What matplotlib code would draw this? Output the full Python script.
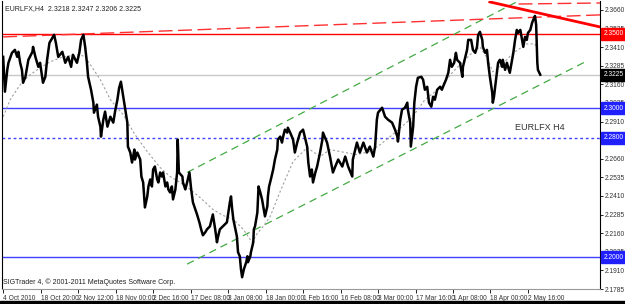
import matplotlib
matplotlib.use("Agg")
import matplotlib.pyplot as plt
import matplotlib.transforms as mtransforms
from matplotlib.patches import Rectangle

plt.rcParams["font.family"] = ["Liberation Sans", "DejaVu Sans"]

# H4 bar index (0 = 4 Oct 2010 00:00) and price at the turning points of the close
bar_idx = [0, 3, 7, 9, 15, 20, 24, 26, 29, 32,
           34, 38, 43, 50, 51, 55, 60, 63, 68, 72,
           75, 79, 84, 87, 90, 94, 101, 106, 111, 116,
           119, 126, 130, 133, 137, 140, 143, 145, 150, 154,
           155, 160, 162, 166, 167, 171, 174, 178, 183, 188,
           191, 195, 198, 201, 205, 208, 212, 213, 217, 220,
           224, 225, 229, 234, 236, 239, 242, 246, 248, 251,
           254, 256, 259, 263, 265, 268, 271, 273, 277, 280,
           282, 285, 288, 290, 294, 297, 298, 299, 300, 306,
           307, 311, 314, 318, 321, 324, 328, 331, 335, 338,
           341, 345, 348, 353, 358, 362, 365, 367, 370, 375,
           382, 387, 389, 391, 393, 399, 401, 404, 406, 408,
           411, 415, 417, 418, 422, 423, 427, 428, 430, 434,
           436, 439, 442, 444, 447, 451, 452, 454, 457, 461,
           464, 468, 469, 473, 476, 478, 481, 485, 486, 490,
           495, 498, 502, 507, 512, 516, 519, 521, 524, 527,
           529, 533, 536, 541, 545, 546, 553, 558, 563, 567,
           572, 579, 584, 589, 596, 597, 604, 609, 615, 621,
           626, 632, 635, 638, 640, 647, 652, 657, 664, 669,
           673, 674, 678, 681, 686, 690, 691, 695, 696, 700,
           702, 705, 708, 714, 717, 720, 724, 727, 731, 734,
           737, 741, 746, 749, 751, 756, 760, 763, 766, 770,
           773, 775, 780, 784, 785, 789, 792, 794, 799, 802,
           806, 809, 811, 814, 818, 819, 823, 826, 828, 831,
           835, 836, 838, 840, 843, 845, 848, 852, 853, 857,
           860, 862, 865, 869, 871, 874, 877, 879, 883, 886,
           888, 891, 894, 896, 900, 903, 905, 908, 910, 911,
           912, 913, 917]
price = [2.3345, 2.3111, 2.3258, 2.3305, 2.3372, 2.3392, 2.3345, 2.3379, 2.3305, 2.3258,
         2.3171, 2.3211, 2.3325, 2.3379, 2.3412, 2.3345, 2.3278, 2.3305, 2.3171, 2.3211,
         2.3325, 2.3439, 2.3472, 2.3493, 2.3439, 2.3345, 2.3379, 2.3305, 2.3345, 2.3278,
         2.3359, 2.3305, 2.3372, 2.3459, 2.3493, 2.3412, 2.3305, 2.3211, 2.3124, 2.3037,
         2.2970, 2.3024, 2.2943, 2.2876, 2.2809, 2.2923, 2.2977, 2.2876, 2.2943, 2.2903,
         2.2977, 2.3057, 2.3137, 2.3178, 2.3077, 2.3003, 2.2903, 2.2742, 2.2702, 2.2635,
         2.2722, 2.2655, 2.2702, 2.2655, 2.2541, 2.2501, 2.2333, 2.2407, 2.2474, 2.2521,
         2.2474, 2.2588, 2.2608, 2.2521, 2.2501, 2.2568, 2.2541, 2.2568, 2.2474, 2.2501,
         2.2454, 2.2434, 2.2474, 2.2387, 2.2454, 2.2568, 2.2789, 2.2675, 2.2568, 2.2541,
         2.2501, 2.2454, 2.2501, 2.2568, 2.2454, 2.2367, 2.2320, 2.2286, 2.2233, 2.2186,
         2.2146, 2.2166, 2.2186, 2.2206, 2.2286, 2.2186, 2.2099, 2.2139, 2.2186, 2.2206,
         2.2233, 2.2367, 2.2407, 2.2320, 2.2253, 2.2139, 2.2032, 2.2005, 2.1918, 2.1864,
         2.1918, 2.1965, 2.2005, 2.1965, 2.2005, 2.2032, 2.2099, 2.2186, 2.2206, 2.2300,
         2.2474, 2.2434, 2.2387, 2.2340, 2.2273, 2.2340, 2.2407, 2.2474, 2.2521, 2.2588,
         2.2655, 2.2722, 2.2789, 2.2809, 2.2769, 2.2809, 2.2856, 2.2836, 2.2869, 2.2836,
         2.2789, 2.2702, 2.2769, 2.2836, 2.2856, 2.2789, 2.2742, 2.2635, 2.2541, 2.2588,
         2.2501, 2.2568, 2.2608, 2.2702, 2.2789, 2.2836, 2.2769, 2.2675, 2.2568, 2.2608,
         2.2655, 2.2608, 2.2675, 2.2608, 2.2541, 2.2655, 2.2769, 2.2702, 2.2769, 2.2702,
         2.2742, 2.2675, 2.2742, 2.2923, 2.2970, 2.3003, 2.2943, 2.2923, 2.2903, 2.2856,
         2.2809, 2.2776, 2.2923, 2.2990, 2.3003, 2.3037, 2.2990, 2.2903, 2.2742, 2.2876,
         2.3037, 2.3144, 2.3204, 2.3211, 2.3191, 2.3124, 2.3144, 2.3037, 2.3010, 2.3077,
         2.3057, 2.3124, 2.3144, 2.3124, 2.3144, 2.3191, 2.3238, 2.3325, 2.3278, 2.3305,
         2.3372, 2.3325, 2.3305, 2.3211, 2.3278, 2.3345, 2.3392, 2.3459, 2.3459, 2.3392,
         2.3372, 2.3412, 2.3493, 2.3513, 2.3459, 2.3412, 2.3372, 2.3392, 2.3305, 2.3211,
         2.3104, 2.3037, 2.3077, 2.3144, 2.3238, 2.3305, 2.3325, 2.3278, 2.3325, 2.3258,
         2.3305, 2.3278, 2.3238, 2.3325, 2.3372, 2.3459, 2.3526, 2.3506, 2.3526, 2.3459,
         2.3412, 2.3479, 2.3459, 2.3506, 2.3526, 2.3573, 2.3593, 2.3620, 2.3560, 2.3426,
         2.3305, 2.3258, 2.3225]

# moving average (grey dotted)
ma_idx = [0, 12, 29, 46, 63, 80, 97, 114, 131, 140, 166, 183, 205, 225, 246, 268,
          285, 302, 319, 336, 358, 375, 393, 410, 425, 434, 444, 456, 473, 495, 519,
          541, 558, 584, 604, 626, 644, 669, 698, 720, 746, 768, 797, 814, 826, 836,
          848, 871, 894, 908, 913]
ma_val = [2.2943, 2.3057, 2.3158, 2.3225, 2.3271, 2.3311, 2.3338, 2.3352, 2.3359, 2.3345,
          2.3191, 2.3057, 2.2956, 2.2823, 2.2709, 2.2601, 2.2541, 2.2501, 2.2454, 2.2400,
          2.2320, 2.2280, 2.2253, 2.2186, 2.2099, 2.2159, 2.2206, 2.2273, 2.2441, 2.2642,
          2.2735, 2.2675, 2.2722, 2.2702, 2.2688, 2.2709, 2.2756, 2.2836, 2.2936, 2.3057,
          2.3137, 2.3245, 2.3359, 2.3412, 2.3338, 2.3245, 2.3278, 2.3372, 2.3432, 2.3432,
          2.3379]

# horizontal levels
red_level = 2.3500
blue_levels = [2.3000, 2.2000]
blue_dotted = 2.2800
bid = 2.3225

# trend lines (bar, price) anchors
chan_up = ([314, 883], [2.2568, 2.3727])
chan_dn = ([314, 994], [2.1952, 2.3312])
red_dash = ([0, 1019], [2.3479, 2.3627])
red_dash_top = ([880, 1019], [2.3700, 2.3707])
red_solid = ([831, 1019], [2.3714, 2.3546])

ytick_vals = [2.1785, 2.1910, 2.2035, 2.2160, 2.2285, 2.2410, 2.2535, 2.2660,
              2.2785, 2.2910, 2.3035, 2.3160, 2.3285, 2.3410, 2.3535, 2.3660]
xtick_bars = [0, 64, 128, 192, 256, 320, 384, 448, 512, 576, 640, 704, 768, 832, 896]
xtick_labels = ["4 Oct 2010", "18 Oct 20:00", "2 Nov 12:00", "18 Nov 00:00",
                "2 Dec 16:00", "17 Dec 08:00", "3 Jan 08:00", "18 Jan 00:00",
                "1 Feb 16:00", "16 Feb 08:00", "3 Mar 00:00", "17 Mar 16:00",
                "1 Apr 08:00", "18 Apr 00:00", "2 May 16:00"]

fig = plt.figure(figsize=(6.25, 3.04), dpi=100)
ax = fig.add_axes([2 / 625, 15 / 304, 598 / 625, 288 / 304])

ax.axhline(red_level, color="#ff0000", lw=1)
for lv in blue_levels:
    ax.axhline(lv, color="#4040ff", lw=1)
ax.axhline(blue_dotted, color="#4040ff", lw=1, ls=(0, (2, 2)))
ax.axhline(bid, color="#c8c8c8", lw=1)

ax.plot(*chan_up, color="#44aa44", lw=0.9, ls=(0, (6, 4)))
ax.plot(*chan_dn, color="#44aa44", lw=0.9, ls=(0, (6, 4)))
ax.plot(*red_dash, color="#ff3030", lw=1, ls=(0, (10, 4)))
ax.plot(*red_dash_top, color="#ff3030", lw=1, ls=(0, (10, 4)))
ax.plot(*red_solid, color="#ff0000", lw=2)

ax.plot(ma_idx, ma_val, color="#a0a0a0", lw=0.8, ls=(0, (2, 2)))
ax.plot(bar_idx, price, color="black", lw=1.8)

ax.set_xlim(-2, 1019)
ax.set_ylim(2.17907, 2.37203)

ax.yaxis.tick_right()
ax.set_yticks(ytick_vals)
ax.set_yticklabels([f"{v:.4f}" for v in ytick_vals], fontsize=4.8, color="#333333")
ax.tick_params(axis="y", length=2, pad=1.5, width=0.6)
ax.set_xticks(xtick_bars)
ax.set_xticklabels(xtick_labels, fontsize=4.8, ha="left", color="#333333")
ax.tick_params(axis="x", length=3, pad=1, width=0.6)

ax.spines["top"].set_visible(False)
ax.spines["left"].set_color("black")
ax.spines["right"].set_color("black")
ax.spines["bottom"].set_color("#999999")
ax.spines["bottom"].set_linestyle((0, (2, 1)))

trans = mtransforms.blended_transform_factory(ax.transAxes, ax.transData)
boxes = [(red_level, "#ff0000"), (bid, "#000000"), (2.3000, "#2020ff"),
         (blue_dotted, "#2020ff"), (2.2000, "#2020ff")]
for lv, c in boxes:
    ax.text(1.0055, lv, f"{lv:.4f}", transform=trans, fontsize=4.8, color="white",
            va="center", ha="left", zorder=5,
            bbox=dict(facecolor=c, edgecolor=c, pad=0.4, boxstyle="square"))

ax.text(0.005, 0.985, "EURLFX,H4  2.3218 2.3247 2.3206 2.3225", transform=ax.transAxes,
        fontsize=5, va="top", color="#222222")
ax.text(0.002, 0.01, "SIGTrader 4, © 2001-2011 MetaQuotes Software Corp.",
        transform=ax.transAxes, fontsize=5, va="bottom", color="#222222")
fig.text(515 / 625, 1 - 128 / 304, "EURLFX H4", fontsize=6.5, va="center",
         color="#333333")

fig.patches.append(Rectangle((0, 0), 1, 3 / 304, transform=fig.transFigure,
                             color="black", zorder=10))

fig.savefig("out.png", dpi=100)
